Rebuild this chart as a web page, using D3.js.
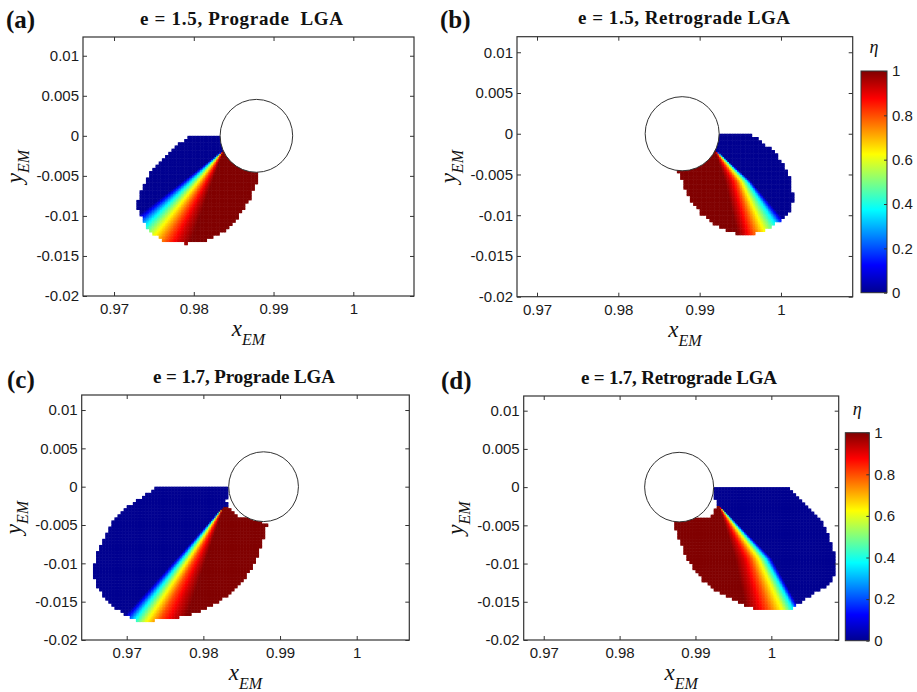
<!DOCTYPE html>
<html>
<head>
<meta charset="utf-8">
<script src="https://cdn.jsdelivr.net/npm/d3@7"></script>
<style>
  body { margin: 0; background: #fff; }
  svg { display: block; }
  .tick text { font-family: "Liberation Sans", Arial, sans-serif; font-size: 15px; fill: #1a1a1a; }
</style>
</head>
<body>
<svg id="fig" width="917" height="692"></svg>
<script>
/******************************** DONNEES ********************************/
var panelTags = ["(a)", "(b)", "(c)", "(d)"];
var titles = ["e = 1.5, Prograde  LGA", "e = 1.5, Retrograde LGA", "e = 1.7, Prograde LGA", "e = 1.7, Retrograde LGA"];
var xTicks = [0.97, 0.98, 0.99, 1];
var yTicks = [0.01, 0.005, 0, -0.005, -0.01, -0.015, -0.02];
var cbTicks = [0, 0.2, 0.4, 0.6, 0.8, 1];
// limites des axes de chaque panneau
var xLims = [[0.96611, 1.00761], [0.96754, 1.00882], [0.96413, 1.00686], [0.96736, 1.00888]];
var yLims = [[-0.02, 0.01234], [-0.02, 0.01191], [-0.02, 0.01196], [-0.02, 0.01192]];
// la Lune (cercle blanc)
var moonX = 0.98785, moonY = 0, moonR = 0.00455;
// niveaux de eta des iso-lignes relevées
var etaLevels = [0, 0.35, 0.6, 0.8, 0.92, 1];

// contours des zones colorées (x, y)
var outlineA = [[0.97953,-0.00011],[0.98320,-0.00011],[0.98785,0],[0.98809,-0.00468],[0.98768,-0.00635],[0.98684,-0.00823],
  [0.98538,-0.0103],[0.9837,-0.01197],[0.98162,-0.01301],[0.97911,-0.01342],[0.97618,-0.01322],[0.97514,-0.01239],
  [0.9741,-0.01135],[0.97347,-0.0103],[0.97285,-0.00905],[0.97305,-0.0078],[0.97347,-0.00655],[0.9741,-0.00531],
  [0.97493,-0.00406],[0.97598,-0.00302],[0.97702,-0.00199],[0.97827,-0.00094]];
var outlineB = [[0.98785,0],[0.99229,-0.00007],[0.99619,-0.00007],[0.99721,-0.00069],[0.99886,-0.00192],[0.99988,-0.00314],
  [1.0007,-0.00458],[1.00132,-0.00621],[1.00151,-0.00826],[1.00111,-0.00949],[1.00009,-0.01051],[0.99886,-0.01133],
  [0.99721,-0.01214],[0.99517,-0.01235],[0.99352,-0.01194],[0.99189,-0.01112],[0.99025,-0.00989],[0.98902,-0.00826],
  [0.9882,-0.00662],[0.98737,-0.00458]];
var outlineC = [[0.97369,-0.0002],[0.98325,-0.0002],[0.98334,-0.00107],[0.98289,-0.00185],[0.98315,-0.00263],[0.98386,-0.00335],
  [0.98478,-0.004],[0.98634,-0.00413],[0.98826,-0.00476],[0.98804,-0.00586],[0.98761,-0.00759],[0.98673,-0.00977],
  [0.98543,-0.01193],[0.9837,-0.01368],[0.98195,-0.01499],[0.97978,-0.01607],[0.9776,-0.01694],[0.97457,-0.01724],
  [0.97282,-0.01759],[0.9713,-0.01746],[0.97021,-0.01694],[0.9689,-0.01607],[0.9676,-0.01499],[0.96652,-0.01368],
  [0.96587,-0.01238],[0.96564,-0.01107],[0.96587,-0.00933],[0.96652,-0.00759],[0.96717,-0.00629],[0.96782,-0.00498],
  [0.9687,-0.0039],[0.96978,-0.0028],[0.97108,-0.00194],[0.97217,-0.00129],[0.97304,-0.00064]];
var outlineD = [[0.99235,-0.00007],[1.00224,-0.00007],[1.0029,-0.00056],[1.00378,-0.00164],[1.00488,-0.00273],[1.00598,-0.00383],
  [1.00685,-0.00491],[1.00751,-0.00622],[1.00796,-0.00775],[1.00839,-0.00927],[1.00839,-0.01102],[1.00796,-0.01211],
  [1.00685,-0.0132],[1.00532,-0.01407],[1.00378,-0.01516],[1.00224,-0.01603],[0.99983,-0.01617],[0.99807,-0.01603],
  [0.99587,-0.01516],[0.99456,-0.0145],[0.9928,-0.01364],[0.99104,-0.01233],[0.98972,-0.01058],[0.98862,-0.00884],
  [0.98796,-0.0071],[0.98708,-0.00448],[0.98842,-0.00426],[0.98972,-0.00396],[0.99104,-0.00404],[0.99192,-0.00383],
  [0.99235,-0.00317],[0.9928,-0.0023],[0.99258,-0.00142]];

// iso-lignes de eta : sommet commun, point milieu (b, d) et pied sur le bord
var apexA = [0.9837, -0.00177];
var footA = [[0.97347,-0.00955],[0.97417,-0.0108],[0.97514,-0.01205],[0.97661,-0.01301],[0.97806,-0.0133],[0.97953,-0.01347]];
var apexB = [0.99189, -0.00192];
var midBy = -0.00581;
var midBx = [0.99631, 0.99591, 0.99524, 0.99455, 0.99385, 0.99312];
var footB = [[1.00016,-0.0103],[0.99935,-0.01091],[0.99803,-0.01174],[0.99659,-0.01226],[0.99557,-0.01244],[0.99468,-0.01235]];
var apexC = [0.9826, -0.0026];
var footC = [[0.97,-0.0165],[0.97099,-0.01724],[0.97239,-0.0176],[0.97434,-0.01737],[0.97621,-0.01707],[0.97783,-0.01694]];
var apexD = [0.99314, -0.00239];
var midDy = -0.00927;
var midDx = [1.00005, 0.9993, 0.99842, 0.99728, 0.99631, 0.99521];
var footD = [[1.0034,-0.01529],[1.0029,-0.01581],[1.00167,-0.01617],[0.9996,-0.01613],[0.99798,-0.01581],[0.99653,-0.01529]];

/******************************** MISE EN PAGE ********************************/
var boxes = [[83, 37, 414, 296], [517, 36.7, 852.7, 296.7], [81.7, 395, 409.3, 640], [523.7, 396, 838.7, 640]];
var tagPos = [[6, 28], [440, 28], [7, 388], [441, 389]];
var titlePos = [[241.5, 24.5, 203], [684, 23.5, 212], [244, 382.5, 182], [679, 384, 196]];
var cbBoxes = [null, [861, 71, 887, 292.7], null, [845.3, 432.7, 869.3, 640.7]];
var step = 0.0004; // pas de la grille (contour en escalier)
var sub = 2;       // sous-division pour lisser le dégradé

var svg = d3.select("#fig");

// palette "jet"
var jet = d3.scaleLinear()
  .domain([0, 0.125, 0.375, 0.625, 0.875, 1])
  .range(["#000090", "#0000ff", "#00ffff", "#ffff00", "#ff0000", "#800000"]);

// construit les iso-lignes d'un panneau
function makeLines(apex, foot, midY, midX) {
  return etaLevels.map(function(e, i) {
    return midX ? [apex, [midX[i], midY], foot[i]] : [apex, foot[i]];
  });
}
var allLines = [
  makeLines(apexA, footA),
  makeLines(apexB, footB, midBy, midBx),
  makeLines(apexC, footC),
  makeLines(apexD, footD, midDy, midDx)
];
var outlines = [outlineA, outlineB, outlineC, outlineD];

// x d'une iso-ligne à l'ordonnée y (prolongée au-delà du pied)
function xOnLine(l, y) {
  for (var i = 0; i < l.length - 1; i++) {
    var a = l[i], b = l[i + 1];
    if (y >= b[1] || i === l.length - 2) {
      var t = (y - a[1]) / (b[1] - a[1]);
      return a[0] + t * (b[0] - a[0]);
    }
  }
}

function etaAt(lines, c) {
  if (c[1] >= lines[0][0][1]) return 0; // au-dessus du sommet : bleu
  var xs = lines.map(function(l) { return xOnLine(l, c[1]); });
  var last = lines[0].length - 1;
  var dir = Math.sign(lines[lines.length - 1][last][0] - lines[0][last][0]);
  for (var i = 1; i < xs.length; i++) {
    if (dir > 0) xs[i] = Math.max(xs[i], xs[i - 1] + 1e-9);
    else xs[i] = Math.min(xs[i], xs[i - 1] - 1e-9);
  }
  return d3.scaleLinear().domain(xs).range(etaLevels).clamp(true)(c[0]);
}

function cellsFor(outline, lines) {
  var x0 = Math.floor(d3.min(outline, function(d) { return d[0]; }) / step) * step;
  var x1 = d3.max(outline, function(d) { return d[0]; });
  var y0 = Math.floor(d3.min(outline, function(d) { return d[1]; }) / step) * step;
  var y1 = d3.max(outline, function(d) { return d[1]; });
  var s = step / sub;
  var cells = [];
  for (var gx = x0; gx < x1; gx += step) {
    for (var gy = y0; gy < y1; gy += step) {
      if (!d3.polygonContains(outline, [gx + step / 2, gy + step / 2])) continue;
      for (var i = 0; i < sub; i++) {
        for (var j = 0; j < sub; j++) {
          var c = [gx + (i + 0.5) * s, gy + (j + 0.5) * s];
          cells.push({x: gx + i * s, y: gy + j * s, eta: etaAt(lines, c)});
        }
      }
    }
  }
  return cells;
}

var fmt = function(d) { return String(d); };
var serif = "'Liberation Serif', 'Times New Roman', serif";

for (var p = 0; p < 4; p++) {
  var b = boxes[p];
  var xs = d3.scaleLinear().domain(xLims[p]).range([b[0], b[2]]);
  var ys = d3.scaleLinear().domain(yLims[p]).range([b[3], b[1]]);
  var g = svg.append("g").attr("class", "panel-" + p);

  // cellules colorées
  var cells = cellsFor(outlines[p], allLines[p]);
  var s = step / sub;
  var cw = xs(s) - xs(0) + 0.5, ch = ys(0) - ys(s) + 0.5;
  g.append("g").selectAll("rect")
    .data(cells)
    .join("rect")
    .attr("x", function(d) { return xs(d.x); })
    .attr("y", function(d) { return ys(d.y + s); })
    .attr("width", cw)
    .attr("height", ch)
    .attr("fill", function(d) { return jet(d.eta); });

  // la Lune
  g.append("ellipse")
    .attr("cx", xs(moonX)).attr("cy", ys(moonY))
    .attr("rx", xs(moonX + moonR) - xs(moonX))
    .attr("ry", ys(moonY) - ys(moonY + moonR))
    .attr("fill", "#fff").attr("stroke", "#333").attr("stroke-width", 1);

  // cadre + graduations vers l'intérieur (style MATLAB)
  g.append("rect")
    .attr("x", b[0]).attr("y", b[1]).attr("width", b[2] - b[0]).attr("height", b[3] - b[1])
    .attr("fill", "none").attr("stroke", "#333").attr("stroke-width", 1.2);

  var axB = g.append("g").attr("transform", "translate(0," + b[3] + ")")
    .call(d3.axisBottom(xs).tickValues(xTicks).tickFormat(fmt).tickSizeInner(-4).tickSizeOuter(0).tickPadding(7.5));
  var axT = g.append("g").attr("transform", "translate(0," + b[1] + ")")
    .call(d3.axisTop(xs).tickValues(xTicks).tickFormat("").tickSizeInner(-4).tickSizeOuter(0));
  var axL = g.append("g").attr("transform", "translate(" + b[0] + ",0)")
    .call(d3.axisLeft(ys).tickValues(yTicks).tickFormat(fmt).tickSizeInner(-4).tickSizeOuter(0).tickPadding(4));
  var axR = g.append("g").attr("transform", "translate(" + b[2] + ",0)")
    .call(d3.axisRight(ys).tickValues(yTicks).tickFormat("").tickSizeInner(-4).tickSizeOuter(0));
  [axB, axT, axL, axR].forEach(function(a) {
    a.select(".domain").remove();
    a.selectAll("line").attr("stroke", "#333");
  });

  // titres
  g.append("text")
    .attr("x", titlePos[p][0]).attr("y", titlePos[p][1])
    .attr("text-anchor", "middle")
    .attr("textLength", titlePos[p][2]).attr("lengthAdjust", "spacing")
    .style("white-space", "pre")
    .style("font-family", serif)
    .style("font-weight", "bold").style("font-size", "19px").style("fill", "#111")
    .text(titles[p]);
  g.append("text")
    .attr("x", tagPos[p][0]).attr("y", tagPos[p][1])
    .style("font-family", serif)
    .style("font-weight", "bold").style("font-size", "25px").style("fill", "#111")
    .text(panelTags[p]);

  // libellés des axes
  var xl = g.append("text")
    .attr("x", (b[0] + b[2]) / 2).attr("y", b[3] + 40)
    .attr("text-anchor", "middle")
    .style("font-family", serif)
    .style("font-style", "italic").style("font-size", "23px").style("fill", "#111");
  xl.append("tspan").text("x");
  xl.append("tspan").attr("dy", 9).style("font-size", "16px").text("EM");

  var yl = g.append("text")
    .attr("transform", "translate(" + (b[0] - 61) + "," + ((b[1] + b[3]) / 2) + ") rotate(-90)")
    .attr("text-anchor", "middle")
    .style("font-family", serif)
    .style("font-style", "italic").style("font-size", "23px").style("fill", "#111");
  yl.append("tspan").text("y");
  yl.append("tspan").attr("dy", 7).style("font-size", "16px").text("EM");

  // barre de couleur
  if (cbBoxes[p]) {
    var cb = cbBoxes[p];
    var gid = "jetGrad" + p;
    var grad = svg.append("defs").append("linearGradient")
      .attr("id", gid).attr("x1", 0).attr("y1", 1).attr("x2", 0).attr("y2", 0);
    grad.selectAll("stop").data(jet.domain()).join("stop")
      .attr("offset", function(d) { return d; })
      .attr("stop-color", function(d) { return jet(d); });
    g.append("rect")
      .attr("x", cb[0]).attr("y", cb[1]).attr("width", cb[2] - cb[0]).attr("height", cb[3] - cb[1])
      .attr("fill", "url(#" + gid + ")").attr("stroke", "#333").attr("stroke-width", 1);
    var cs = d3.scaleLinear().domain([0, 1]).range([cb[3], cb[1]]);
    var axC = g.append("g").attr("transform", "translate(" + cb[2] + ",0)")
      .call(d3.axisRight(cs).tickValues(cbTicks).tickFormat(fmt).tickSizeInner(-3).tickSizeOuter(0).tickPadding(5));
    axC.select(".domain").remove();
    axC.selectAll("line").attr("stroke", "#333");
    g.append("text")
      .attr("x", (cb[0] + cb[2]) / 2).attr("y", cb[1] - 18)
      .attr("text-anchor", "middle")
      .style("font-family", serif)
      .style("font-style", "italic").style("font-size", "18px").style("fill", "#111")
      .text("η");
  }
}
</script>
</body>
</html>
